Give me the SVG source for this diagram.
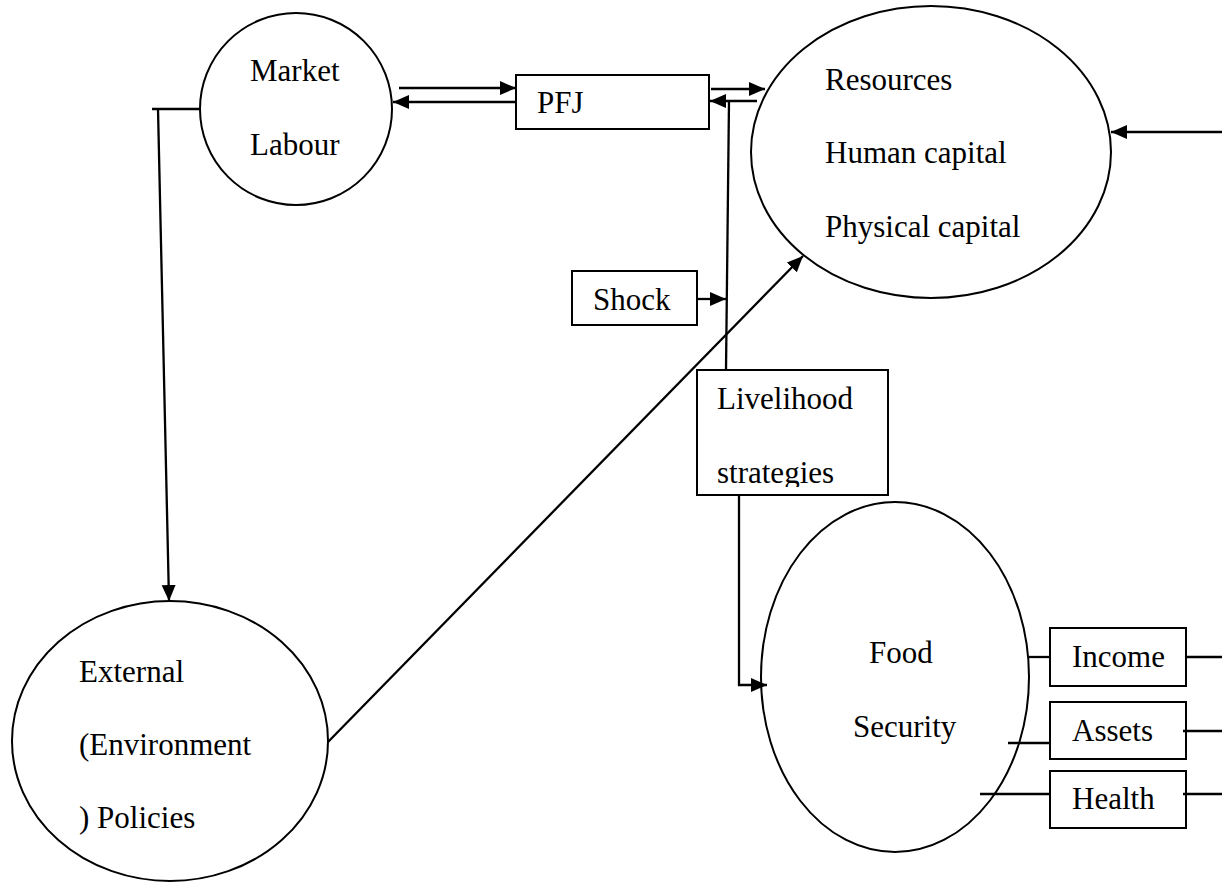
<svg xmlns="http://www.w3.org/2000/svg" width="1222" height="884" viewBox="0 0 1222 884" font-family="'Liberation Serif', 'DejaVu Serif', serif" font-size="31">
<style>
.shape{fill:#fff;stroke:#000;stroke-width:2}
.ln{fill:none;stroke:#000;stroke-width:2.3}
.arr{marker-end:url(#ah)}
text{font-family:'Liberation Serif','DejaVu Serif',serif;font-size:31px;fill:#000}
</style>
<defs>
<marker id="ah" markerUnits="userSpaceOnUse" markerWidth="18" markerHeight="15" refX="16" refY="7" orient="auto">
<path d="M0,0 L16,7 L0,14 z" fill="#000"/>
</marker>
<clipPath id="clipLS"><rect x="697" y="370" width="191" height="117"/></clipPath>
</defs>
<rect width="1222" height="884" fill="#fff"/>
<g id="market">
<ellipse class="shape" cx="296" cy="109" rx="96" ry="96"/>
<text x="250" y="81">Market</text>
<text x="250" y="155">Labour</text>
</g>
<g id="resources">
<ellipse class="shape" cx="931" cy="152" rx="180" ry="146"/>
<text x="825" y="90">Resources</text>
<text x="825" y="163">Human capital</text>
<text x="825" y="237">Physical capital</text>
</g>
<g id="pfj">
<rect class="shape" x="516" y="75" width="193" height="54"/>
<text x="537" y="113">PFJ</text>
</g>
<g id="shock">
<rect class="shape" x="572" y="271" width="125" height="54"/>
<text x="593" y="310">Shock</text>
</g>
<g id="external">
<ellipse class="shape" cx="170" cy="741" rx="158" ry="140"/>
<text x="79" y="682">External</text>
<text x="79" y="755">(Environment</text>
<text x="79" y="828">) Policies</text>
</g>
<g id="foodsecurity">
<ellipse class="shape" cx="895" cy="677" rx="134" ry="175"/>
<text x="869" y="663">Food</text>
<text x="853" y="737">Security</text>
</g>
<g id="income">
<rect class="shape" x="1050" y="628" width="136" height="58"/>
<text x="1072" y="667">Income</text>
</g>
<g id="assets">
<rect class="shape" x="1050" y="702" width="136" height="57"/>
<text x="1072" y="741">Assets</text>
</g>
<g id="health">
<rect class="shape" x="1050" y="771" width="136" height="57"/>
<text x="1072" y="809">Health</text>
</g>
<g id="connectors">
<line class="ln arr" x1="399" y1="88" x2="516" y2="88"/>
<line class="ln arr" x1="516" y1="102" x2="393" y2="102"/>
<line class="ln arr" x1="711" y1="89" x2="765" y2="89"/>
<line class="ln arr" x1="757" y1="101" x2="710" y2="101"/>
<line class="ln" x1="729" y1="101" x2="726" y2="370"/>
<line class="ln arr" x1="697" y1="299" x2="726" y2="299"/>
<line class="ln arr" x1="328" y1="742" x2="803" y2="256"/>
<line class="ln arr" x1="1222" y1="132" x2="1111" y2="132"/>
<polyline class="ln" points="152,109 200,109"/>
<line class="ln arr" x1="158" y1="109" x2="169" y2="601"/>
<polyline class="ln arr" points="739,495 739,685 767,685"/>
<line class="ln" x1="1029" y1="657" x2="1050" y2="657"/>
<line class="ln" x1="1186" y1="657" x2="1222" y2="657"/>
<line class="ln" x1="1008" y1="743" x2="1050" y2="743"/>
<line class="ln" x1="1183" y1="731" x2="1222" y2="731"/>
<line class="ln" x1="980" y1="794" x2="1050" y2="794"/>
<line class="ln" x1="1183" y1="794" x2="1222" y2="794"/>
</g>
<g id="livelihood">
<rect class="shape" x="697" y="370" width="191" height="125"/>
<text x="717" y="409">Livelihood</text>
<text x="717" y="483" clip-path="url(#clipLS)">strategies</text>
</g>
</svg>
